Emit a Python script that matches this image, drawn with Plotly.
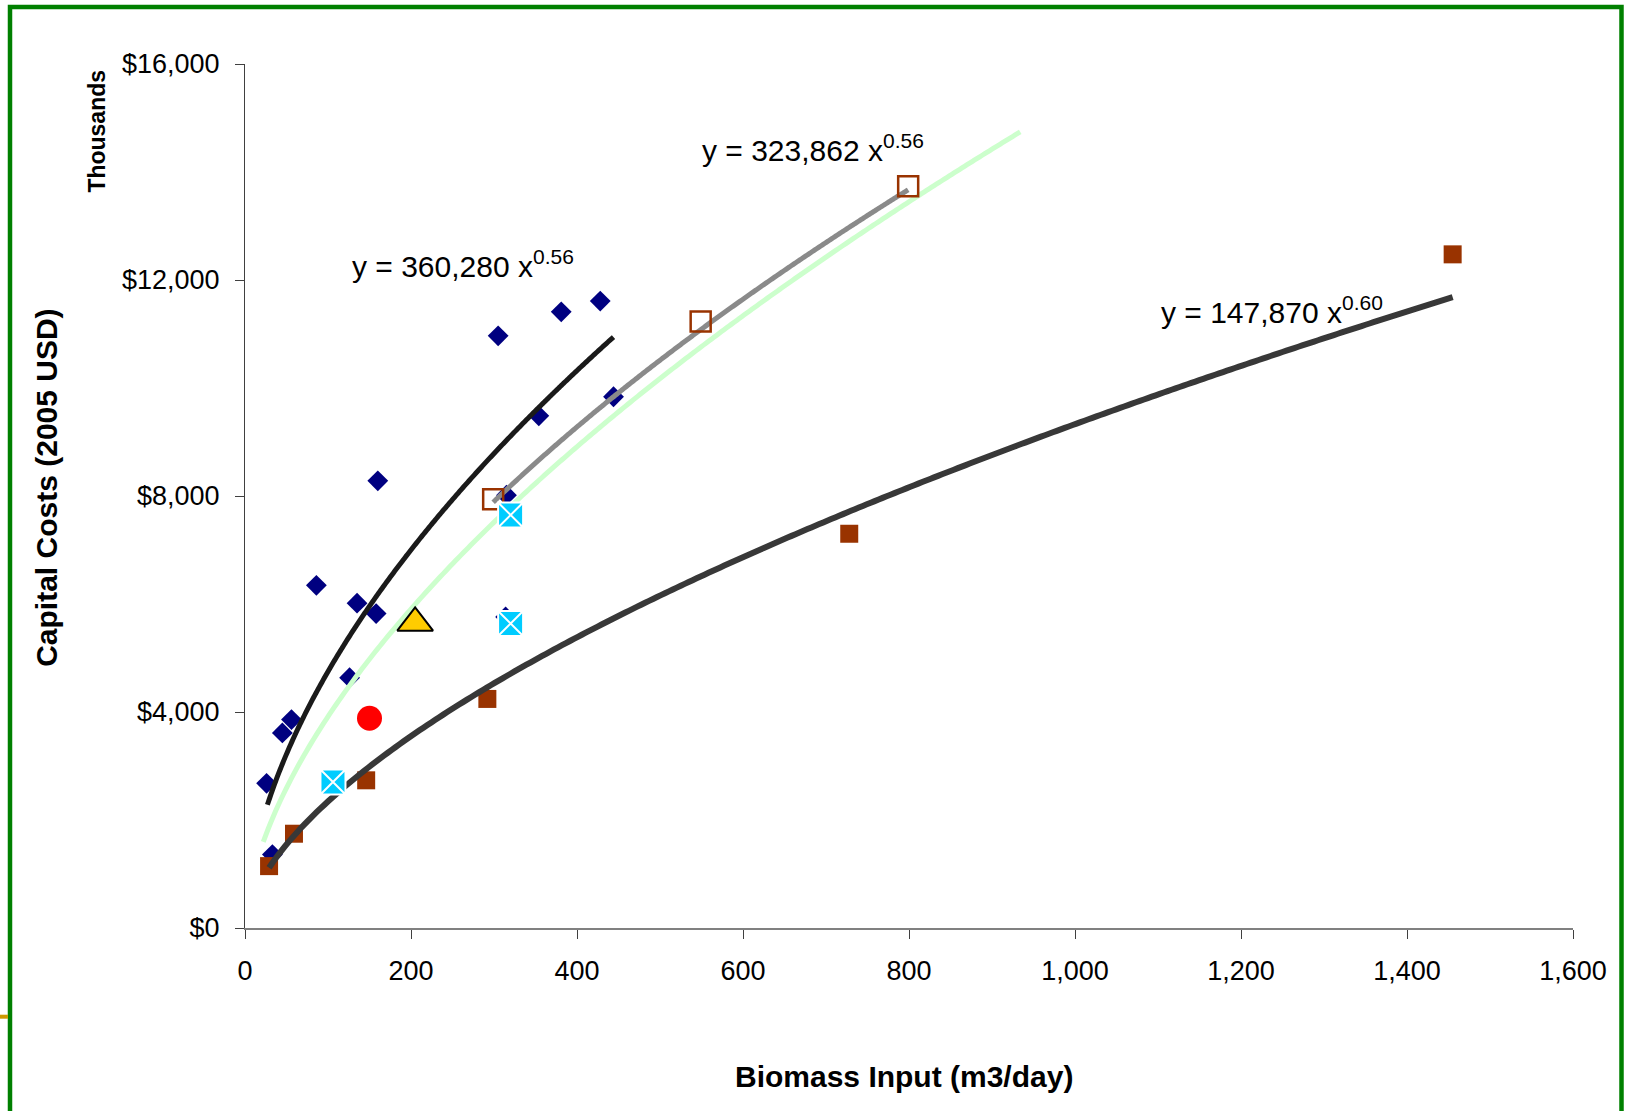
import numpy as np
import plotly.graph_objects as go

# ---------------- data (values in $ thousands) ----------------
diamond_x = [26, 33, 45, 56, 86, 126, 135, 158, 160, 305, 315, 314, 354, 381, 428, 444]
diamond_y = [2680, 1360, 3612, 3860, 6345, 4635, 6015, 5823, 8281, 10966, 8015, 5760, 9485, 11410, 11610, 9838]

brown_x = [29, 59, 146, 292, 728, 1455]
brown_y = [1146, 1746, 2735, 4242, 7301, 12475]

open_sq_x = [299, 549, 799]
open_sq_y = [7939, 11231, 13734]

cyan_x = [106, 320, 320]
cyan_y = [2703, 7648, 5640]

triangle_x = [205]
triangle_y = [5650]

circle_x = [150]
circle_y = [3884]

# trendline equations shown on the chart (y in $, displayed in thousands)
trend_black = dict(a=360.280, b=0.56, x0=27, x1=444)
trend_gray = dict(a=323.862, b=0.56, x0=299, x1=799)
trend_dark = dict(a=147.870, b=0.60, x0=29, x1=1455)
trend_green = dict(a=254.5, b=0.5935, x0=22, x1=934)

x_ticks = [0, 200, 400, 600, 800, 1000, 1200, 1400, 1600]
x_ticktext = ["0", "200", "400", "600", "800", "1,000", "1,200", "1,400", "1,600"]
y_ticks = [0, 4000, 8000, 12000, 16000]
y_ticktext = ["$0", "$4,000", "$8,000", "$12,000", "$16,000"]

FONT = "Liberation Sans, Arial, sans-serif"


def curve(t):
    xs = np.linspace(t["x0"], t["x1"], 300)
    return xs, t["a"] * xs ** t["b"]


fig = go.Figure()

fig.add_trace(go.Scatter(x=diamond_x, y=diamond_y, mode="markers",
                         marker=dict(symbol="diamond", size=16, color="#000080"),
                         cliponaxis=False))
fig.add_trace(go.Scatter(x=brown_x, y=brown_y, mode="markers",
                         marker=dict(symbol="square", size=18, color="#993300"),
                         cliponaxis=False))

for t, col, w in [(trend_black, "#1a1a1a", 5), (trend_dark, "#383838", 6),
                  (trend_gray, "#8a8a8a", 5), (trend_green, "#ccffcc", 5)]:
    cx, cy = curve(t)
    fig.add_trace(go.Scatter(x=cx, y=cy, mode="lines",
                             line=dict(color=col, width=w, simplify=False),
                             cliponaxis=False))

fig.add_trace(go.Scatter(x=open_sq_x, y=open_sq_y, mode="markers",
                         marker=dict(symbol="square-open", size=20, color="#993300",
                                     line=dict(width=2.5, color="#993300")),
                         cliponaxis=False))
fig.add_trace(go.Scatter(x=cyan_x, y=cyan_y, mode="markers",
                         marker=dict(symbol="square-x", size=25, color="#00ccff",
                                     line=dict(width=2, color="white")),
                         cliponaxis=False))
fig.add_trace(go.Scatter(x=triangle_x, y=triangle_y, mode="markers",
                         marker=dict(symbol="triangle-up", size=31, color="#ffcc00",
                                     line=dict(width=2, color="black")),
                         cliponaxis=False))
fig.add_trace(go.Scatter(x=circle_x, y=circle_y, mode="markers",
                         marker=dict(symbol="circle", size=25, color="#ff0000"),
                         cliponaxis=False))

ann_font = dict(family=FONT, size=30, color="black")
annotations = [
    dict(x=126.5, y=12251, text="y = 360,280 x<sup>0.56</sup>"),
    dict(x=547.6, y=14414, text="y = 323,862 x<sup>0.56</sup>"),
    dict(x=1101.6, y=11402, text="y = 147,870 x<sup>0.60</sup>"),
]
for a in annotations:
    a.update(xref="x", yref="y", xanchor="left", yanchor="middle", showarrow=False,
             font=ann_font, yshift=2)

annotations += [
    dict(xref="paper", yref="paper", x=-0.1494, y=0.509, text="<b>Capital Costs (2005 USD)</b>",
         textangle=-90, showarrow=False, font=dict(family=FONT, size=30, color="black"),
         xanchor="center", yanchor="middle"),
    dict(xref="paper", yref="paper", x=-0.1117, y=0.9225, text="<b>Thousands</b>",
         textangle=-90, showarrow=False, font=dict(family=FONT, size=23, color="black"),
         xanchor="center", yanchor="middle"),
    dict(xref="paper", yref="paper", x=0.4962, y=-0.1713, text="<b>Biomass Input (m3/day)</b>",
         showarrow=False, font=dict(family=FONT, size=30, color="black"),
         xanchor="center", yanchor="middle"),
]

shapes = [
    dict(type="rect", xref="paper", yref="paper", x0=-0.17696, x1=1.03652, y0=-0.2164, y1=1.06597,
         line=dict(color="#008000", width=4.5), layer="below"),
    dict(type="line", xref="paper", yref="paper", x0=-0.1845, x1=-0.1785, y0=-0.10266, y1=-0.10266,
         line=dict(color="#cc9900", width=4)),
]

fig.update_layout(
    width=1625, height=1111,
    margin=dict(l=245, r=52, t=64, b=183),
    paper_bgcolor="white", plot_bgcolor="white",
    showlegend=False,
    font=dict(family=FONT, size=27, color="black"),
    annotations=annotations,
    shapes=shapes,
    xaxis=dict(range=[0, 1600], tickvals=x_ticks, ticktext=x_ticktext, showgrid=False,
               zeroline=False, showline=True, linecolor="#808080", linewidth=2,
               ticks="outside", ticklen=9, tickcolor="#404040", tickwidth=1,
               ticklabelstandoff=9, tickfont=dict(size=27)),
    yaxis=dict(range=[0, 16000], tickvals=y_ticks, ticktext=y_ticktext, showgrid=False,
               zeroline=False, showline=True, linecolor="#404040", linewidth=1,
               ticks="outside", ticklen=9, tickcolor="#404040", tickwidth=1,
               ticklabelstandoff=10, tickfont=dict(size=27)),
)

fig.write_html("out.html")
